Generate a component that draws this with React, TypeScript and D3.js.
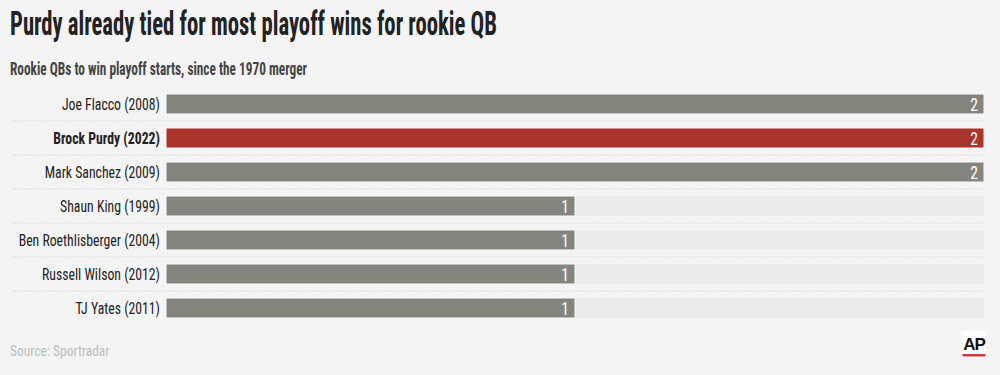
import React from "react";
import * as d3 from "d3";

const players = [
  "Joe Flacco (2008)",
  "Brock Purdy (2022)",
  "Mark Sanchez (2009)",
  "Shaun King (1999)",
  "Ben Roethlisberger (2004)",
  "Russell Wilson (2012)",
  "TJ Yates (2011)",
];
const wins = [2, 2, 2, 1, 1, 1, 1];
const highlight = "Brock Purdy (2022)";
const maxWins = 2;

const FONT = "'Roboto Condensed', 'Liberation Sans Narrow', 'DejaVu Sans Condensed', Roboto, sans-serif";

export default function App() {
  const W = 1000, H = 375;
  const x = d3.scaleLinear().domain([0, maxWins]).range([166, 984]);
  const y = d3.scaleBand().domain(players).range([94, 318]).paddingInner(14 / 34).paddingOuter(0);
  const bw = y.bandwidth();
  const sep = (y.step() - bw) / 2;
  return (
    <svg width={W} height={H} style={{ display: "block", position: "absolute", left: 0, top: 0, background: "#f4f4f4", fontFamily: FONT }}>
      <rect width={W} height={H} fill="#f4f4f4" />
      <text x={10} y={35} fontSize={33} fontWeight={700} fill="#222" textLength={487} lengthAdjust="spacingAndGlyphs">
        Purdy already tied for most playoff wins for rookie QB
      </text>
      <text x={10} y={75} fontSize={18} fontWeight={700} fill="#444" textLength={297} lengthAdjust="spacingAndGlyphs">
        Rookie QBs to win playoff starts, since the 1970 merger
      </text>
      {players.map((p, i) => {
        const yy = y(p)!;
        const isH = p === highlight;
        return (
          <g key={p}>
            <rect x={x(0)} y={yy} width={x(maxWins) - x(0)} height={bw} fill="#eaeaea" />
            <rect x={x(0)} y={yy} width={x(wins[i]) - x(0)} height={bw} fill={isH ? "#a8342b" : "#858580"} stroke="#fafafa" strokeWidth={1} />
            <g transform={`translate(160,${yy + bw / 2}) scale(0.86,1)`}>
              <text x={0} y={0} dy="0.36em" textAnchor="end" fontSize={16} fontWeight={isH ? 700 : 400} fill="#222">
                {p}
              </text>
            </g>
            <g transform={`translate(${x(wins[i]) - 6},${yy + bw / 2}) scale(0.82,1)`}>
              <text x={0} y={0} dy="0.37em" textAnchor="end" fontSize={19} fill="#fff">
                {wins[i]}
              </text>
            </g>
            {i < players.length - 1 && (
              <line x1={12} x2={984} y1={yy + bw + sep} y2={yy + bw + sep} stroke="#d4d4d4" strokeWidth={1} strokeDasharray="1.5,1.5" />
            )}
          </g>
        );
      })}
      <g transform="translate(10,356) scale(0.9,1)">
        <text x={0} y={0} fontSize={15} fill="#bcbcbc">Source: Sportradar</text>
      </g>
      <g>
        <rect x={962} y={331} width={24} height={27} fill="#fff" />
        <text x={974} y={350} textAnchor="middle" fontSize={17} fontWeight={900} fill="#111" fontFamily="'Liberation Sans', Arial, sans-serif" letterSpacing={-1}>AP</text>
        <rect x={962.5} y={354} width={23} height={2.5} fill="#d9333f" />
      </g>
    </svg>
  );
}
